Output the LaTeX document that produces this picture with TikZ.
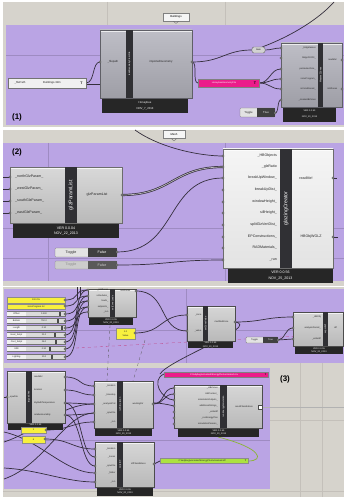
\documentclass[tikz,border=0pt]{standalone}
\usepackage{fontspec}
\setmainfont{Liberation Sans}
\definecolor{canvas}{RGB}{214,211,204}
\definecolor{grp}{RGB}{186,164,228}
\definecolor{compTop}{RGB}{190,190,198}
\definecolor{compBot}{RGB}{158,158,166}
\definecolor{compEdge}{RGB}{95,95,102}
\definecolor{ftrc}{RGB}{38,38,38}
\definecolor{stripc}{RGB}{48,48,52}
\definecolor{pinkp}{RGB}{236,28,138}
\definecolor{yellowp}{RGB}{248,240,62}
\definecolor{greenp}{RGB}{172,226,64}
\definecolor{wirec}{RGB}{52,46,60}
\definecolor{gridc}{RGB}{196,192,186}
\newcommand{\tfs}{\fontsize{2.3}{2.5}\selectfont}
\newcommand{\tfa}{\fontsize{2.8}{3}\selectfont}
\newcommand{\tfb}{\fontsize{3.6}{3.8}\selectfont}
\newcommand{\tfc}{\fontsize{5.2}{5.5}\selectfont}
% x1 y1 x2 y2 footerbottom stripx1 stripx2 footerx1 footerx2
\newcommand{\ghc}[9]{%
  \fill[ftrc] (#8,#4) rectangle (#9,#5);
  \shade[top color=compTop, bottom color=compBot, draw=compEdge, line width=0.4pt] (#1,#2) rectangle (#3,#4);
  \draw[white!70!compTop, line width=0.6pt] (#1+0.5,#2+1) -- (#3-0.5,#2+1);
  \fill[stripc] (#6,#2) rectangle (#7,#4);
}
\newcommand{\prt}[1]{\filldraw[fill=white,draw=black!80,line width=0.3pt] #1 circle (1.1pt);}
\newcommand{\sld}[4]{%
  \filldraw[fill=gray!28, draw=black!55, line width=0.25pt] (7,#1-2.6) rectangle (65,#1+2.6);
  \fill[gray!10] (7.3,#1-2.3) rectangle (26,#1+2.3);
  \fill[black!70] (#4-1,#1-1.8) rectangle (#4+1,#1+1.8);
  \node[lbl, font=\tfs] (sl#1a) at (16.5,#1) {#2};
  \node[lbl, font=\tfs] (sl#1b) at (44,#1) {#3};
}
\begin{document}
\begin{tikzpicture}[x=1pt,y=-1pt,
  wire/.style={draw=wirec, line width=0.7pt},
  lbl/.style={inner sep=0pt, text=black!85},
  strt/.style={inner sep=0pt, text=white, rotate=90},
  ftr/.style={inner sep=0pt, text=white},
  gridl/.style={draw=gridc, line width=0.3pt},
  lbox/.style={draw=black!50, fill=gray!8, inner sep=0.5pt, minimum height=8pt},
  ttl/.style={inner sep=0pt, font=\bfseries\fontsize{8}{9}\selectfont}]
\useasboundingbox (0,0) rectangle (344,497);
\fill[white] (0,0) rectangle (344,497);

% ================= PANEL 1 =================
\fill[canvas] (3,2) rectangle (344,127);
\draw[gridl] (107,2) -- (107,25);
\draw[gridl] (225,2) -- (225,25);
\fill[grp] (6,25) rectangle (344,125);
\draw[gridl, draw=grp!85!black] (6,55) -- (344,55);
\node[lbox, font=\tfa, minimum width=26pt] (lab1) at (176,17) {Buildings};
\draw[black!60, line width=0.3pt] (173.5,21.2) -- (176,23.5) -- (178.5,21.2);

\draw[wire] (86,83) .. controls (95,83) and (92,62) .. (100,62);
\draw[wire] (86,84) -- (100,84);
\draw[wire] (192,62) .. controls (222,62) and (225,50) .. (252,50);
\draw[wire] (192,62) .. controls (198,62) and (192,83) .. (198,83);
\draw[wire] (265,50) .. controls (272,50) and (274,48) .. (281,48);
\draw[wire] (262,47) .. controls (292,36) and (320,18) .. (334,2);
\draw[wire] (259,83) .. controls (270,83) and (270,69) .. (281,69);
\draw[wire] (259,83) .. controls (270,83) and (270,79) .. (281,79);
\draw[wire] (259,83) .. controls (270,83) and (270,89) .. (281,89);
\draw[wire] (275,113) .. controls (279,113) and (277,100) .. (281,100);

\filldraw[fill=gray!12, draw=black!55, line width=0.3pt] (8,78) rectangle (86,88);
\node[lbl, font=\tfa] (ip1) at (20,83) {\_filePath};
\node[lbl, font=\tfa] (ip2) at (52,83) {Buildings.3dm};
\node[lbl, font=\bfseries\tfb] (ip3) at (81.5,83) {T};

\ghc{100}{30}{192}{98}{113}{126}{133}{102}{188}
\node[lbl, font=\tfa] (c1i) at (113,62) {\_filepath};
\node[lbl, font=\tfa] (c1o) at (161,62) {importedGeometry};
\node[strt, font=\tfs] (c1s) at (129.5,64) {readGeometryFromFile};
\node[ftr, font=\tfa] (c1f1) at (145,102.5) {Honeybee};
\node[ftr, font=\tfa] (c1f2) at (145,108.5) {NOV\_7\_2013};
\prt{(100,62)} \prt{(192,62)}

\filldraw[fill=pinkp, draw=black!50, line width=0.3pt] (198,79) rectangle (259,87);
\node[ftr, font=\tfs] (pk1) at (224,83) {HoneybeeGeometryFile};
\node[lbl, font=\bfseries\tfb, text=black] (pk1t) at (255,83) {T};

\node[draw=black!60, fill=gray!35, rounded corners=1.5pt, font=\tfs, minimum width=13pt, minimum height=6pt, inner sep=0.3pt] (rl) at (258.5,50) {Item};

\ghc{281}{43}{342}{107}{122}{318}{323}{283}{336}
\foreach \yy/\tt [count=\i] in {48/\_bldgMasses, 58/bldgsFlr2Flr\_, 69/perimeterZone\_, 79/zoneProgram\_, 89/isConditioned\_, 100/\_createHBZones}{
  \node[lbl, font=\tfs, anchor=east] (c2in\i) at (316,\yy) {\tt};
  \prt{(281,\yy)}
}
\node[lbl, font=\tfs] (c2o1) at (332.5,60) {readMe!};
\node[lbl, font=\tfs] (c2o2) at (332.5,89) {HBZones};
\node[strt, font=\tfs] (c2s) at (320.5,75) {Masses2Zones};
\node[ftr, font=\tfs] (c2f1) at (309.5,111) {VER 0.0.53};
\node[ftr, font=\tfs] (c2f2) at (309.5,117) {NOV\_20\_2013};
\prt{(342,60)} \prt{(342,89)}

\filldraw[fill=gray!22, draw=black!55, line width=0.3pt, rounded corners=1pt] (240,108) rectangle (275,117);
\fill[black!75] (257,108.3) rectangle (274.7,116.7);
\node[lbl, font=\tfa] (tg1a) at (248.5,112.5) {Toggle};
\node[ftr, font=\tfa] (tg1b) at (266,112.5) {True};
\prt{(275,113)}
\node[ttl] (p1) at (17,117) {(1)};

% ================= PANEL 2 =================
\colorlet{compTop}{white!88!gray}
\colorlet{compBot}{white!72!gray}
\colorlet{compEdge}{gray!85!black}
\fill[canvas] (3,130) rectangle (344,286);
\fill[grp] (3,143) rectangle (344,281);
\draw[gridl, draw=grp!85!black] (48,143) -- (48,281);
\draw[gridl, draw=grp!85!black] (3,228) -- (344,228);
\draw[gridl, draw=grp!85!black] (3,258) -- (344,258);
\draw[gridl, draw=grp!85!black] (225,143) -- (225,281);
\node[lbox, font=\tfa, minimum width=22pt] (lab2) at (174,134.5) {Mesh};
\draw[black!60, line width=0.3pt] (171.5,138.7) -- (174,141) -- (176.5,138.7);

\draw[wire] (135,130) .. controls (160,148) and (200,156) .. (223,156);
\draw[wire, double=gray!55, double distance=0.7pt] (122,195) .. controls (172,195) and (173,167) .. (223,167);
\draw[wire] (117,252) .. controls (178,252) and (165,178) .. (223,178);
\draw[wire] (117,265) .. controls (170,265) and (170,260) .. (223,260);
\foreach \yy in {177,189,201,213}{ \draw[wire] (3,\yy) -- (10,\yy); }
\draw[wire] (333,178) -- (337,178);
\draw[wire] (333,237) -- (338,237);

\colorlet{compTop}{white!70!gray}
\colorlet{compBot}{white!45!gray}
\ghc{10}{167}{122}{223}{238}{65}{77}{13}{119}
\foreach \yy/\tt [count=\i] in {177/\_northGlzParam\_, 189/\_westGlzParam\_, 201/\_southGlzParam\_, 213/\_eastGlzParam\_}{
  \node[lbl, font=\tfb, anchor=west] (gpin\i) at (15,\yy) {\tt};
  \prt{(10,\yy)}
}
\node[lbl, font=\tfb] (gpo) at (97,195) {glzParamList};
\node[strt, font=\tfc] (gps) at (71,195) {glzParamList};
\node[ftr, font=\tfb] (gpf1) at (66,228.5) {VER 0.0.04};
\node[ftr, font=\tfb] (gpf2) at (66,234) {NOV\_22\_2013};
\prt{(122,195)}

\colorlet{compTop}{white!92!gray}
\colorlet{compBot}{white!78!gray}
\ghc{223}{149}{333}{268}{283}{280}{292}{228}{333}
\foreach \yy/\tt [count=\i] in {156/\_HBObjects, 167/\_glzRatio, 178/breakUpWindow\_, 190/breakUpDist\_, 202/windowHeight\_, 213/sillHeight\_, 225/splitGlzVertDist\_, 237/EPConstructions\_, 248/RADMaterials\_, 260/\_run}{
  \node[lbl, font=\tfb, anchor=east] (gcin\i) at (277,\yy) {\tt};
  \prt{(223,\yy)}
}
\node[lbl, font=\tfb] (gco1) at (306,178) {readMe!};
\node[lbl, font=\tfb] (gco2) at (311,237) {HBObjWGLZ};
\node[strt, font=\tfc] (gcs) at (286,208.5) {glazingCreator};
\node[ftr, font=\tfb] (gcf1) at (280.5,272.5) {VER 0.0.56};
\node[ftr, font=\tfb] (gcf2) at (280.5,278.5) {NOV\_25\_2013};
\prt{(333,178)} \prt{(333,237)}

\filldraw[fill=gray!22, draw=black!55, line width=0.3pt, rounded corners=1pt] (55,248) rectangle (117,257);
\fill[black!75] (88,248.3) rectangle (116.7,256.7);
\node[lbl, font=\tfb] (tg2a) at (71,252.5) {Toggle};
\node[ftr, font=\tfb] (tg2b) at (102,252.5) {False};
\prt{(117,252)}
\filldraw[fill=gray!40, draw=black!45, line width=0.3pt, rounded corners=1pt] (55,261) rectangle (117,269);
\fill[black!65] (88,261.3) rectangle (116.7,268.7);
\node[lbl, font=\tfb, text=gray!90] (tg3a) at (71,265) {Toggle};
\node[ftr, font=\tfb, text=gray!40] (tg3b) at (102,265) {False};
\prt{(117,265)}
\node[ttl] (p2) at (17,152) {(2)};

% ================= PANEL 3 =================
\colorlet{compTop}{white!68!gray}
\colorlet{compBot}{white!45!gray}
\colorlet{compEdge}{gray!60!black}
\fill[canvas] (3,287) rectangle (344,497);
\draw[gridl] (300,363) -- (300,497);
\draw[gridl] (322,363) -- (322,497);
\draw[gridl] (3,491) -- (344,491);
\draw[gridl] (270,420) -- (344,420);
\fill[grp] (4,289) rectangle (344,363);
\fill[grp] (4,368) rectangle (270,489);
\draw[gridl, draw=grp!85!black] (4,330) -- (344,330);
\draw[gridl, draw=grp!85!black] (186,289) -- (186,363);
\draw[gridl, draw=grp!85!black] (4,440) -- (270,440);

% top group wires
\foreach \ys/\yt in {300/290, 306/296, 314/301, 321/307, 328/312, 335/290, 342/296, 349/301, 357/307}{
  \draw[wire] (65,\ys) .. controls (81,\ys) and (72,\yt) .. (88,\yt);
}
\draw[wire] (77,287) -- (77,300);
\draw[wire] (80,287) -- (80,296);
\draw[wire] (136,291) .. controls (168,291) and (158,331) .. (187,331);
\draw[wire] (135,333) .. controls (163,333) and (160,315) .. (187,315);
\draw[wire] (235,322) .. controls (262,322) and (265,317) .. (293,317);
\draw[wire] (278,340) .. controls (285,340) and (285,328) .. (293,328);
\draw[wire] (278,340) .. controls (285,340) and (286,339) .. (293,339);
\draw[wire] (235,322) .. controls (262,326) and (168,360) .. (160,374);
\draw[pinkp!60!gray, dashed, line width=0.3pt] (76,348) -- (300,336);
\draw[gray!70!black, dashed, line width=0.3pt] (110,325) -- (107,381);
\draw[gray!70!black, dashed, line width=0.3pt] (145,340) -- (133,381);

\filldraw[fill=yellowp, draw=black!45, line width=0.25pt] (7,297) rectangle (65,303);
\node[lbl, font=\tfs] (y1) at (36,300) {100.0\%};
\filldraw[fill=yellowp, draw=black!45, line width=0.25pt] (7,304) rectangle (65,309);
\node[lbl, font=\tfs] (y2) at (36,306.5) {zoneProgram.txt};
\prt{(65,300)} \prt{(65,306)}
\sld{314}{Offset}{0.500}{60}
\sld{321}{Bottom}{750.0}{58}
\sld{328}{Length}{0.10}{62}
\sld{335}{Heat\_Setpt}{21.0}{55}
\sld{342}{Cool\_Setpt}{26.0}{56}
\sld{349}{Infilt}{0.30}{50}
\sld{357}{Lighting}{10.0}{52}
\foreach \yy in {314,321,328,335,342,349,357}{ \prt{(65,\yy)} }

\ghc{88}{289}{136}{317}{325}{110}{115}{89}{133}
\foreach \yy/\tt [count=\i] in {290/\_HBZones, 296/schedules\_, 301/loads\_, 307/setpoints\_, 312/\_run}{
  \node[lbl, font=\tfs, anchor=east] (ain\i) at (108.5,\yy) {\tt};
  \prt{(88,\yy)}
}
\node[lbl, font=\tfs] (ao) at (125.5,291) {HBZones};
\node[strt, font=\tfs] (as) at (112.5,303) {setZoneLoads};
\node[ftr, font=\tfs] (af1) at (111,319.5) {VER 0.0.55};
\node[ftr, font=\tfs] (af2) at (111,323) {NOV\_20\_2013};
\prt{(136,291)}

\filldraw[fill=yellowp, draw=black!45, line width=0.25pt] (116,328) rectangle (135,339);
\node[lbl, font=\tfs] (y3a) at (125.5,331.5) {1.0};
\node[lbl, font=\tfs] (y3b) at (125.5,335.5) {Value};
\prt{(135,333)}

\ghc{187}{306}{235}{341}{348}{203}{208}{188}{233}
\node[lbl, font=\tfs, anchor=east] (bin1) at (201.5,315) {\_zone};
\node[lbl, font=\tfs, anchor=east] (bin2) at (201.5,331) {\_value};
\node[lbl, font=\tfs] (bo) at (221.5,322) {modifiedZone};
\node[strt, font=\tfs] (bs) at (205.5,323.5) {setZoneValue};
\node[ftr, font=\tfs] (bf1) at (210.5,343) {VER 0.0.55};
\node[ftr, font=\tfs] (bf2) at (210.5,346.5) {NOV\_20\_2013};
\prt{(187,315)} \prt{(187,331)} \prt{(235,322)}

\filldraw[fill=gray!22, draw=black!55, line width=0.3pt, rounded corners=0.8pt] (246,337) rectangle (278,343);
\fill[black!75] (263,337.3) rectangle (277.7,342.7);
\node[lbl, font=\tfs] (tg4a) at (254.5,340) {Toggle};
\node[ftr, font=\tfs] (tg4b) at (270.5,340) {True};
\prt{(278,340)}

\ghc{293}{312}{343}{346}{354}{323}{328}{295}{343}
\node[lbl, font=\tfs, anchor=east] (cin1) at (321,317) {\_HBObj};
\node[lbl, font=\tfs, anchor=east] (cin2) at (321,328) {analysisPeriod\_};
\node[lbl, font=\tfs, anchor=east] (cin3) at (321,339) {\_writeIdf};
\node[lbl, font=\tfs] (co) at (335.5,328) {idf};
\node[strt, font=\tfs] (cs) at (325.5,329) {exportIdf};
\node[ftr, font=\tfs] (cf1) at (319,348.5) {VER 0.0.55};
\node[ftr, font=\tfs] (cf2) at (319,352) {NOV\_20\_2013};
\prt{(293,317)} \prt{(293,328)} \prt{(293,339)}

% bottom group wires
\draw[wire] (4,397) -- (7,397);
\draw[wire] (65,377) .. controls (82,377) and (78,386) .. (94,386);
\draw[wire] (65,390) .. controls (80,390) and (80,395) .. (94,395);
\draw[wire] (65,403) .. controls (82,403) and (80,457) .. (95,457);
\draw[wire] (65,415) .. controls (82,415) and (80,466) .. (95,466);
\draw[wire] (65,403) .. controls (78,403) and (82,404) .. (94,404);
\draw[wire] (46,430) .. controls (70,430) and (72,422) .. (94,422);
\draw[wire] (45,439) .. controls (70,439) and (72,449) .. (95,449);
\draw[wire] (4,442) .. controls (40,430) and (60,404) .. (94,404);
\draw[wire] (4,479) .. controls (45,465) and (65,413) .. (94,413);
\draw[wire] (4,432) .. controls (40,440) and (65,473) .. (95,473);
\draw[wire] (4,468) .. controls (40,470) and (65,482) .. (95,482);
\draw[wire] (153,404) .. controls (165,404) and (162,388) .. (174,388);
\draw[wire] (153,404) .. controls (165,404) and (163,394) .. (174,394);
\draw[wire] (164,374) .. controls (150,380) and (162,400) .. (174,400);
\draw[wire] (65,415) .. controls (120,415) and (130,395) .. (174,406);
\draw[wire] (154,464) -- (160,461);
\draw[draw=greenp!80!black, line width=0.7pt] (248,461) .. controls (265,461) and (262,448) .. (218,437);
\draw[draw=gray!60, line width=0.7pt] (262,407) -- (344,407);

\ghc{7}{371}{65}{423}{430}{26}{32}{8}{63}
\node[lbl, font=\tfs, anchor=west] (din) at (8.5,397) {\_epwFile};
\foreach \yy/\tt [count=\i] in {377/readMe!, 390/location, 403/dryBulbTemperature, 415/relativeHumidity}{
  \node[lbl, font=\tfs, anchor=west] (dout\i) at (34,\yy) {\tt};
  \prt{(65,\yy)}
}
\node[strt, font=\tfs] (ds) at (29,397) {ImportEPW};
\node[ftr, font=\tfs] (df1) at (35.5,425) {VER 0.0.55};
\node[ftr, font=\tfs] (df2) at (35.5,428.5) {NOV\_20\_2013};
\prt{(7,397)}

\filldraw[fill=yellowp, draw=black!45, line width=0.25pt] (21,427) rectangle (46,433);
\node[lbl, font=\tfs] (y4) at (33.5,430) {1};
\filldraw[fill=yellowp, draw=black!45, line width=0.25pt] (22,436) rectangle (45,443);
\node[lbl, font=\tfs] (y5) at (33.5,439.5) {6};
\prt{(46,430)} \prt{(45,439)}

\ghc{94}{381}{153}{428}{436}{117}{123}{95}{152}
\foreach \yy/\tt [count=\i] in {386/\_location, 395/\_timestep, 404/\_analysisPrd, 413/\_epwFile, 422/\_run}{
  \node[lbl, font=\tfs, anchor=east] (ein\i) at (115.5,\yy) {\tt};
  \prt{(94,\yy)}
}
\node[lbl, font=\tfs] (eo) at (138,404) {workingDir};
\node[strt, font=\tfs] (es) at (120,404.5) {runSimulation};
\node[ftr, font=\tfs] (ef1) at (123.5,430.5) {VER 0.0.55};
\node[ftr, font=\tfs] (ef2) at (123.5,434) {NOV\_20\_2013};
\prt{(153,404)}

\filldraw[fill=pinkp, draw=black!50, line width=0.25pt] (164,372) rectangle (268,377);
\node[ftr, font=\tfs] (pk2) at (214,374.5) {C:\textbackslash ladybug\textbackslash unnamed\textbackslash EnergyPlus\textbackslash unnamed.csv};
\node[lbl, font=\bfseries\tfs, text=black] (pk2t) at (265.5,374.5) {T};
\node[ttl] (p3) at (285,379) {(3)};

\ghc{174}{385}{262}{428}{437}{220}{227}{178}{259}
\foreach \yy/\tt [count=\i] in {388/\_HBZones, 394/HBContext\_, 400/simulationOutputs\_, 406/additionalStrings\_, 412/\_writeIdf, 418/\_runEnergyPlus, 424/simulationParams\_}{
  \node[lbl, font=\tfs, anchor=east] (fin\i) at (218,\yy) {\tt};
  \prt{(174,\yy)}
}
\node[lbl, font=\tfs] (fo) at (244,407) {resultFileAddress};
\node[strt, font=\tfs] (fs) at (223.5,406.5) {runEnergySimulation};
\node[ftr, font=\tfs] (ff1) at (218.5,430.5) {VER 0.0.55};
\node[ftr, font=\tfs] (ff2) at (218.5,434) {NOV\_20\_2013};
\filldraw[fill=white, draw=black!70, line width=0.3pt] (258.5,405) rectangle (262,409);

\ghc{95}{442}{154}{487}{496}{117}{123}{97}{153}
\foreach \yy/\tt [count=\i] in {449/\_location, 457/\_zones, 466/\_epwFile, 473/\_folder, 482/\_run}{
  \node[lbl, font=\tfs, anchor=east] (gin\i) at (115.5,\yy) {\tt};
  \prt{(95,\yy)}
}
\node[lbl, font=\tfs] (go) at (138.5,464) {idfFileAddress};
\node[strt, font=\tfs] (gs) at (120,464.5) {writeIDF};
\node[ftr, font=\tfs] (gf1) at (125,489.5) {VER 0.0.55};
\node[ftr, font=\tfs] (gf2) at (125,493) {NOV\_20\_2013};
\prt{(154,464)}

\filldraw[fill=greenp, draw=black!45, line width=0.25pt] (160,458) rectangle (248,463.5);
\node[lbl, font=\tfs] (gr) at (202,460.8) {C:\textbackslash ladybug\textbackslash unnamed\textbackslash EnergyPlus\textbackslash unnamed.idf};
\node[lbl, font=\bfseries\tfs] (grt) at (245.5,460.8) {T};
\end{tikzpicture}
\end{document}
